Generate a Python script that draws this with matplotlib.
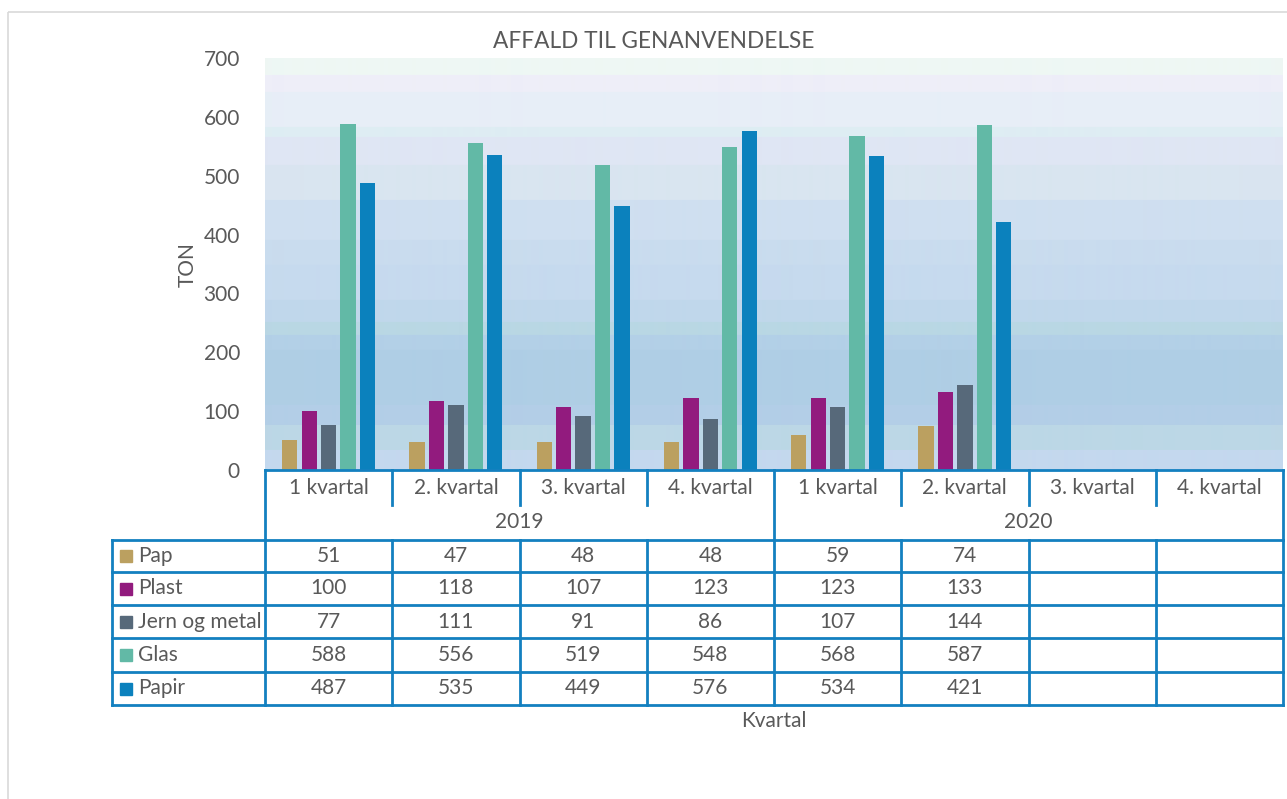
import numpy as np
import matplotlib
matplotlib.use('Agg')
import matplotlib.pyplot as plt
from matplotlib.lines import Line2D
from matplotlib.patches import Rectangle
from matplotlib.colors import to_rgb

# data
kvartaler = ['1 kvartal', '2. kvartal', '3. kvartal', '4. kvartal',
             '1 kvartal', '2. kvartal', '3. kvartal', '4. kvartal']
aar = ['2019', '2020']
serier = ['Pap', 'Plast', 'Jern og metal', 'Glas', 'Papir']
pap = [51, 47, 48, 48, 59, 74, None, None]
plast = [100, 118, 107, 123, 123, 133, None, None]
jern = [77, 111, 91, 86, 107, 144, None, None]
glas = [588, 556, 519, 548, 568, 587, None, None]
papir = [487, 535, 449, 576, 534, 421, None, None]
vaerdier = [pap, plast, jern, glas, papir]
farver = ['#BBA060', '#921B7E', '#57697A', '#62B9A6', '#0B81BD']

W, H = 1287, 799
tekst = '#595959'
blaa = '#1380C0'
fs = 15
plt.rcParams['font.family'] = ['Lato', 'DejaVu Sans']

fig = plt.figure(figsize=(W / 100, H / 100), dpi=100)
fig.patch.set_facecolor('white')

# plot area in pixel
x0, x1, ytop, ybot = 265, 1283, 58, 470
ax = fig.add_axes([x0 / W, 1 - ybot / H, (x1 - x0) / W, (ybot - ytop) / H])

# baggrund med baand (fra toppen ned)
baand = [(0, '#EEF7F4'), (17, '#EEEEF8'), (34, '#E7EEF7'), (69, '#DEEDF3'),
         (79, '#DFE6F4'), (107, '#D9E5F0'), (142, '#CFDFF0'), (182, '#C9DCEE'),
         (207, '#C6DAEE'), (242, '#C0D7EB'), (264, '#B9D7E4'), (277, '#B3D0E7'),
         (292, '#AFCEE5'), (347, '#B3CEE7'), (367, '#BCD7E6'), (392, '#C4D8EE')]
hoejde = ybot - ytop
img = np.zeros((hoejde, 1, 3))
for i, (start, c) in enumerate(baand):
    slut = baand[i + 1][0] if i + 1 < len(baand) else hoejde
    img[start:slut, 0, :] = to_rgb(c)
ax.imshow(img, extent=[0, 1, 0, 1], transform=ax.transAxes, aspect='auto',
          interpolation='bilinear', zorder=0)

n = len(kvartaler)
x = np.arange(n)
step = 0.153
bw = 0.12
for i, (navn, v, c) in enumerate(zip(serier, vaerdier, farver)):
    y = np.array([np.nan if a is None else a for a in v], dtype=float)
    ax.bar(x + (i - 2) * step, y, width=bw, color=c, zorder=2, label=navn)

ax.set_xlim(-0.5, n - 0.5)
ax.set_ylim(0, 700)
ax.set_yticks(range(0, 701, 100))
ax.tick_params(axis='y', length=0, pad=18, labelsize=fs, labelcolor=tekst)
ax.set_xticks([])
for s in ['top', 'right', 'left']:
    ax.spines[s].set_visible(False)
ax.spines['bottom'].set_color(blaa)
ax.spines['bottom'].set_linewidth(2)

# overlay i pixel-koordinater til tabel, titel, ramme
ov = fig.add_axes([0, 0, 1, 1])
ov.set_xlim(0, W)
ov.set_ylim(H, 0)
ov.set_axis_off()

ov.add_patch(Rectangle((8, 12), W + 20, H + 20, fill=False, edgecolor='#D9D9D9', lw=1.2))

ov.text(654, 42, 'AFFALD TIL GENANVENDELSE', ha='center', va='center', fontsize=16.3, color=tekst)
ov.text(188, 265, 'TON', ha='center', va='center', rotation=90, fontsize=fs, color=tekst)
ov.text(774, 721, 'Kvartal', ha='center', va='center', fontsize=fs, color=tekst)

cw = (x1 - x0) / n
lx = 112
raekker = [540, 572, 605, 638, 672, 705]
kw = dict(color=blaa, lw=2, solid_capstyle='projecting')

# kategori- og aarsraekke
for k in range(n + 1):
    xx = x0 + k * cw
    if k % 4 == 0:
        ov.add_line(Line2D([xx, xx], [ybot, 540], **kw))
    else:
        ov.add_line(Line2D([xx, xx], [ybot, 505], **kw))
for k, lab in enumerate(kvartaler):
    ov.text(x0 + (k + 0.5) * cw, 488, lab, ha='center', va='center', fontsize=fs, color=tekst)
for j, lab in enumerate(aar):
    ov.text(x0 + (4 * j + 2) * cw, 522, lab, ha='center', va='center', fontsize=fs, color=tekst)

# dataraekker
for yy in raekker:
    ov.add_line(Line2D([lx, x1], [yy, yy], **kw))
for xx in [lx] + [x0 + k * cw for k in range(n + 1)]:
    ov.add_line(Line2D([xx, xx], [raekker[0], raekker[-1]], **kw))

for r, (navn, v, c) in enumerate(zip(serier, vaerdier, farver)):
    yc = (raekker[r] + raekker[r + 1]) / 2
    ov.add_patch(Rectangle((120, yc - 6), 12, 12, color=c))
    ov.text(138, yc, navn, ha='left', va='center', fontsize=fs, color=tekst)
    for k, a in enumerate(v):
        if a is not None:
            ov.text(x0 + (k + 0.5) * cw, yc, str(a), ha='center', va='center',
                    fontsize=fs, color=tekst)

fig.savefig('out.png', dpi=100)
